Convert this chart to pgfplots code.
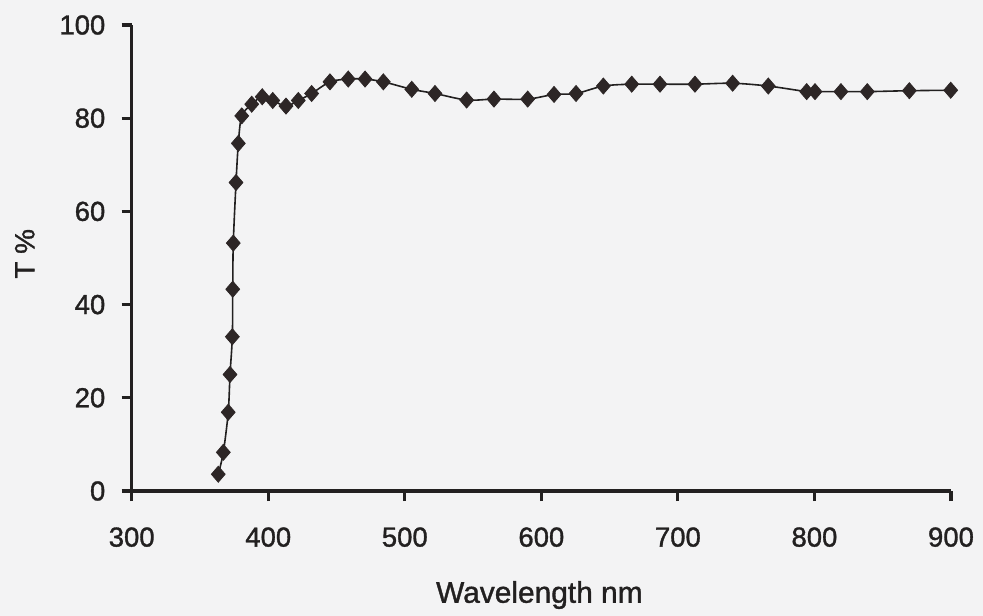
\documentclass[border=0pt]{standalone}
\usepackage{fontspec}
\setmainfont{Liberation Sans}[FakeBold=1.2]
\newfontfamily\scanfont{Liberation Sans}[FakeBold=1.2]
\usepackage{pgfplots}
\pgfplotsset{compat=1.18}

\definecolor{paper}{RGB}{243,243,244}
\definecolor{ink}{RGB}{34,32,32}
\definecolor{markfill}{RGB}{45,38,38}

\pgfplotstableread{
wl     T
363.4  3.6
367.1  8.3
370.7  16.9
372.0  25.0
373.7  33.1
374.0  43.3
374.4  53.2
376.4  66.2
378.1  74.6
380.6  80.5
387.9  83.0
395.6  84.6
403.3  83.8
413.0  82.6
422.0  83.8
431.8  85.3
445.2  87.8
458.6  88.4
470.9  88.4
484.3  87.8
505.1  86.2
522.1  85.3
545.3  83.9
565.3  84.1
590.0  84.1
609.3  85.1
625.4  85.3
645.4  86.9
666.2  87.3
686.9  87.3
712.5  87.3
740.1  87.5
766.2  86.9
794.3  85.7
800.4  85.7
819.4  85.7
838.7  85.7
869.5  85.9
899.8  86.0
}\transdata

\begin{document}
\begin{tikzpicture}
% page frame, sized like the scan
\fill[paper, use as bounding box] (-65.85bp,-62.5bp) rectangle (425.65bp,245.5bp);
\begin{axis}[
    anchor = south west, at = {(0,0)},
    scale only axis,
    width = 409.65bp, height = 233bp,
    xmin = 300, xmax = 900,
    ymin = 0, ymax = 100,
    xtick = {300,400,...,900},
    ytick = {0,20,...,100},
    axis lines = left,
    axis line style = {-, line width=1.7bp, ink},
    tick style = {line width=1.6bp, ink},
    tick align = outside,
    major tick length = 5bp,
    /pgf/number format/assume math mode=true,
    /pgf/number format/set thousands separator={},
    tick label style = {font=\scanfont\fontsize{13.8}{16}\selectfont, text=ink, inner sep=0pt},
    yticklabel style = {anchor=east, xshift=-8bp},
    xticklabel style = {anchor=north, yshift=-13bp},
    xlabel = {Wavelength nm},
    ylabel = {T \%},
    xlabel style = {font=\scanfont\fontsize{15}{17}\selectfont, text=ink,
        at={(axis description cs:0.4976,-0.2398)}, anchor=base},
    ylabel style = {font=\scanfont\fontsize{14}{16}\selectfont, text=ink,
        at={(axis description cs:-0.1305,0.509)}, anchor=center},
    clip = false,
]
\addplot [ink, line width=0.8bp, smooth, tension=0.5,
    mark=diamond*, mark size=4bp,
    mark options={solid, xscale=1.15, fill=markfill, draw=markfill, line width=0.4bp}]
    table [x=wl, y=T] {\transdata};
\end{axis}
\end{tikzpicture}
\end{document}
